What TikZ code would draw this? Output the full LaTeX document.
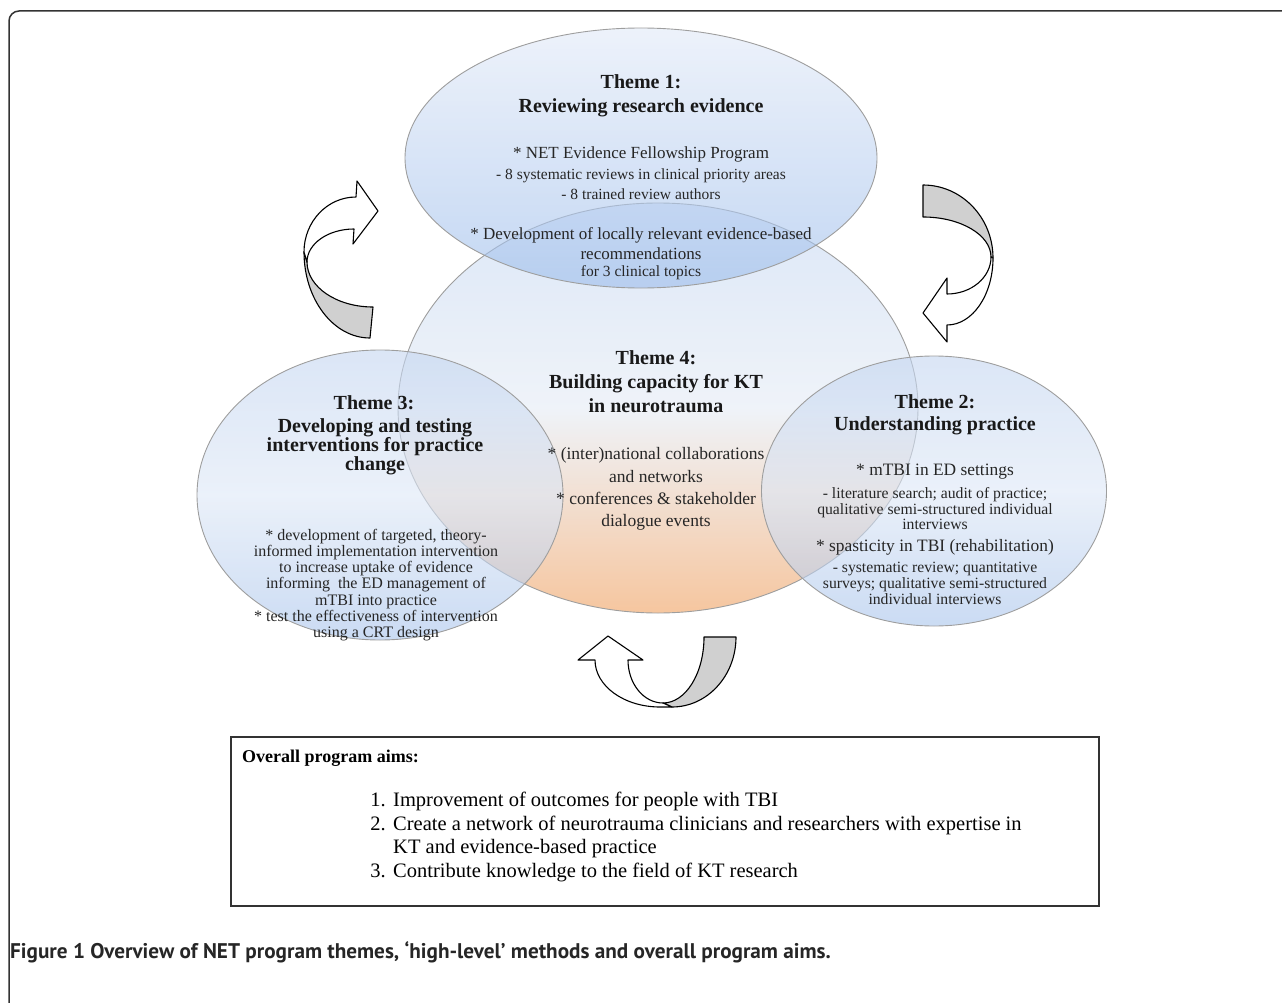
\documentclass[tikz,border=0pt]{standalone}
\usepackage{fontspec}
\setmainfont{Liberation Serif}
\newfontfamily\capfont{PT Sans}
\usetikzlibrary{shapes.geometric}
\definecolor{eOneTop}{RGB}{225,233,247}
\definecolor{eOneBot}{RGB}{155,188,235}
\definecolor{eFourTop}{RGB}{197,215,242}
\definecolor{eFourMid}{RGB}{228,235,245}
\definecolor{eFourBot}{RGB}{240,160,95}
\definecolor{eSideTop}{RGB}{195,213,240}
\definecolor{eSideMid}{RGB}{221,231,246}
\definecolor{eSideBot}{RGB}{167,195,235}
\definecolor{ribbon}{RGB}{208,208,208}
\tikzset{
  blob/.style={ellipse, draw=black!38, line width=0.9pt, fill opacity=0.6, draw opacity=1, inner sep=0pt},
  ttl/.style={font=\bfseries\fontsize{20}{24}\selectfont, align=center, inner sep=0pt, text=black!90},
  bod/.style={font=\fontsize{17}{20}\selectfont, align=center, inner sep=0pt, text=black!85},
  sbd/.style={font=\fontsize{15.5}{20}\selectfont, align=center, inner sep=0pt, text=black!85},
  arrowpart/.style={draw=black, line width=1.1pt, line join=round},
  boxtxt/.style={font=\fontsize{20.5}{24}\selectfont, inner sep=0pt, anchor=base west},
}
\begin{document}
\begin{tikzpicture}[x=1pt,y=-1pt]
\useasboundingbox (0,0) rectangle (1282,1003);
% outer frame
\draw[line width=1.5pt, black!80, rounded corners=10pt] (9,1020) -- (9,11) -- (1300,11);

% ellipses
\node[blob, minimum width=520, minimum height=410, top color=eFourTop, bottom color=eFourBot, middle color=eFourMid] (e4) at (658,408) {};
\node[blob, minimum width=472, minimum height=260, top color=eOneTop, bottom color=eOneBot] (e1) at (641,158) {};
\node[blob, minimum width=366, minimum height=290, top color=eSideTop, bottom color=eSideBot, middle color=eSideMid] (e3) at (380,495) {};
\node[blob, minimum width=345, minimum height=270, top color=eSideTop, bottom color=eSideBot, middle color=eSideMid] (e2) at (934,491) {};

% Theme 1
\node[ttl] (t1h) at (641,96) {Theme 1:\\Reviewing research evidence};
\node[bod] (t1a) at (641,154) {* NET Evidence Fellowship Program};
\node[sbd] (t1b) at (641,184) {- 8 systematic reviews in clinical priority areas\\- 8 trained review authors};
\node[bod] (t1c) at (641,244) {* Development of locally relevant evidence-based\\recommendations};
\node[sbd] (t1d) at (641,273) {for 3 clinical topics};

% Theme 4
\node[ttl] (t4h) at (656,382) {Theme 4:\\Building capacity for KT\\in neurotrauma};
\node[bod, font=\fontsize{17.5}{22.3}\selectfont] (t4a) at (656,489) {* (inter)national collaborations\\and networks\\* conferences \& stakeholder\\dialogue events};

% Theme 3
\node[ttl] (t3h) at (374,403) {Theme 3:};
\node[ttl, font=\bfseries\fontsize{20}{19}\selectfont] (t3t) at (375,447) {Developing and testing\\interventions for practice\\change};
\node[bod, font=\fontsize{16}{16.3}\selectfont] (t3a) at (376,585) {* development of targeted, theory-\\informed implementation intervention\\to increase uptake of evidence\\informing\ \ the ED management of\\mTBI into practice\\* test the effectiveness of intervention\\using a CRT design};

% Theme 2
\node[ttl, font=\bfseries\fontsize{20}{22}\selectfont] (t2h) at (935,415) {Theme 2:\\Understanding practice};
\node[bod, font=\fontsize{17.4}{20}\selectfont] (t2a) at (935,472) {* mTBI in ED settings};
\node[sbd, font=\fontsize{15.7}{15.5}\selectfont] (t2b) at (935,509) {- literature search; audit of practice;\\qualitative semi-structured individual\\interviews};
\node[bod, font=\fontsize{17.4}{20}\selectfont] (t2c) at (935,547) {* spasticity in TBI (rehabilitation)};
\node[sbd, font=\fontsize{15.7}{16}\selectfont] (t2d) at (935,583) {- systematic review; quantitative\\surveys; qualitative semi-structured\\individual interviews};

% left curved arrow
\draw[arrowpart, fill=ribbon] (304,252) arc[start angle=180, end angle=90, x radius=66, y radius=86]
  -- (373,307) arc[start angle=90, end angle=180, x radius=66, y radius=45] -- cycle;
\draw[arrowpart, fill=white] (304,252) arc[start angle=180, end angle=270, x radius=52, y radius=55]
  -- (357,181) -- (378,211) -- (353,244) -- (354,229)
  arc[start angle=270, end angle=180, x radius=47, y radius=33] -- cycle;

% right curved arrow
\draw[arrowpart, fill=ribbon] (923,185) arc[start angle=270, end angle=360, x radius=70, y radius=73]
  -- (991,257) arc[start angle=0, end angle=-90, x radius=68, y radius=40] -- cycle;
\draw[arrowpart, fill=white] (993,258) arc[start angle=0, end angle=90, x radius=46, y radius=67]
  -- (947,342) -- (923,313) -- (947,278) -- (947,294)
  arc[start angle=90, end angle=0, x radius=44, y radius=37] -- cycle;

% bottom curved arrow
\draw[arrowpart, fill=ribbon] (736,637) arc[start angle=0, end angle=90, x radius=64, y radius=70]
  -- (663,703) arc[start angle=90, end angle=0, x radius=41, y radius=66] -- cycle;
\draw[arrowpart, fill=white] (672,707) -- (660,707) arc[start angle=90, end angle=180, x radius=65, y radius=47]
  -- (578,660) -- (608,636) -- (643,660) -- (628,660)
  arc[start angle=180, end angle=90, x radius=35, y radius=43] -- cycle;

% aims box
\node[draw=black!80, line width=1.5pt, minimum width=868, minimum height=169, inner sep=0pt] (aims) at (665,821.5) {};
\node[boxtxt, font=\bfseries\fontsize{18}{22}\selectfont] (ah) at (242,762) {Overall program aims:};
\node[boxtxt, anchor=base east] (n1) at (386,806) {1.};
\node[boxtxt] (a1) at (393,806) {Improvement of outcomes for people with TBI};
\node[boxtxt, anchor=base east] (n2) at (386,830) {2.};
\node[boxtxt] (a2) at (393,830) {Create a network of neurotrauma clinicians and researchers with expertise in};
\node[boxtxt] (a2b) at (393,853) {KT and evidence-based practice};
\node[boxtxt, anchor=base east] (n3) at (386,877) {3.};
\node[boxtxt] (a3) at (393,877) {Contribute knowledge to the field of KT research};

% caption
\node[font=\capfont\bfseries\fontsize{21.2}{24}\selectfont, anchor=base west, inner sep=0pt, text=black!85] (cap) at (10,958) {Figure 1 Overview of NET program themes, ‘high-level’ methods and overall program aims.};
\end{tikzpicture}
\end{document}
